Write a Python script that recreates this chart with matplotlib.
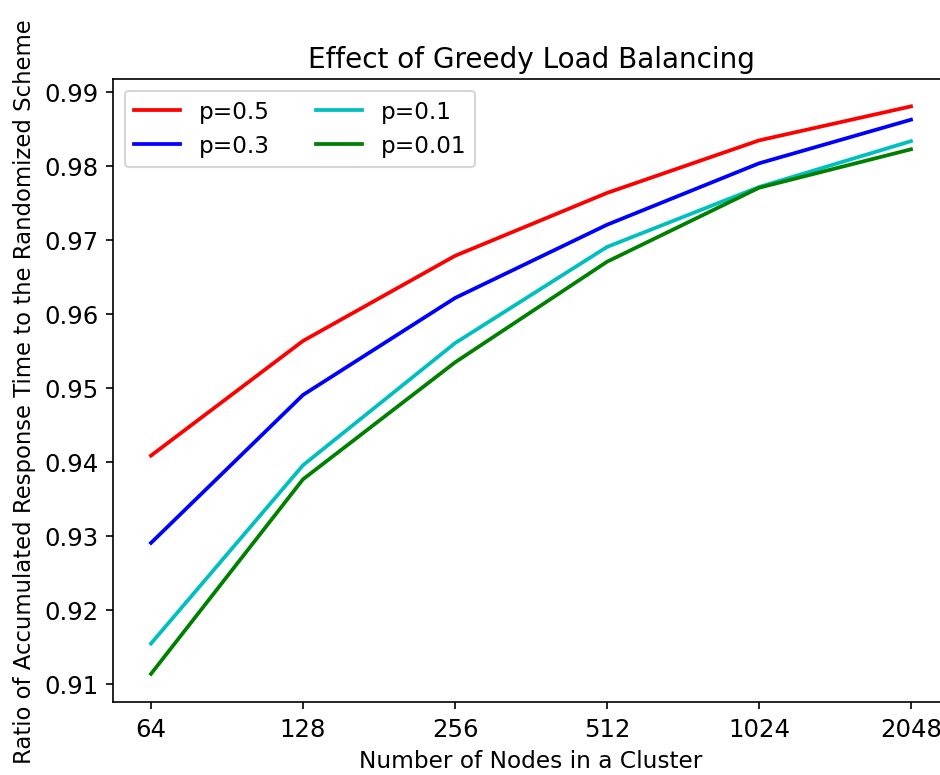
import matplotlib
matplotlib.use('Agg')
import matplotlib.pyplot as plt
import numpy as np

# datos
nodes = ['64', '128', '256', '512', '1024', '2048']
p05 = [0.9408, 0.9563, 0.9678, 0.9763, 0.9834, 0.9880]
p03 = [0.9290, 0.9490, 0.9621, 0.9720, 0.9803, 0.9862]
p01 = [0.9154, 0.9395, 0.9560, 0.9690, 0.9771, 0.9833]
p001 = [0.9113, 0.9376, 0.9534, 0.9670, 0.9770, 0.9822]

x = np.arange(len(nodes))

fig = plt.figure(figsize=(940/150, 776/150), dpi=150)
ax = fig.add_axes([113/940, 1-703/776, 836/940, 623/776])

lw = 1.8
ax.plot(x, p05, 'r', lw=lw, label='p=0.5')
ax.plot(x, p03, 'b', lw=lw, label='p=0.3')
ax.plot(x, p01, 'c', lw=lw, label='p=0.1')
ax.plot(x, p001, 'g', lw=lw, label='p=0.01')

ax.set_xticks(x)
ax.set_xticklabels(nodes)
ax.set_xlim(-0.25, 5.25)
ax.set_ylim(0.9075, 0.9917)
ax.set_yticks([0.91, 0.92, 0.93, 0.94, 0.95, 0.96, 0.97, 0.98, 0.99])
ax.tick_params(labelsize=11.7)

ax.set_title('Effect of Greedy Load Balancing', fontsize=13.4)
ax.set_xlabel('Number of Nodes in a Cluster', fontsize=11.2)
ax.set_ylabel('Ratio of Accumulated Response Time to the Randomized Scheme', fontsize=10.9)
ax.legend(loc='upper left', ncol=2, fontsize=11.1)

plt.savefig('out.png', dpi=150)
plt.close()
